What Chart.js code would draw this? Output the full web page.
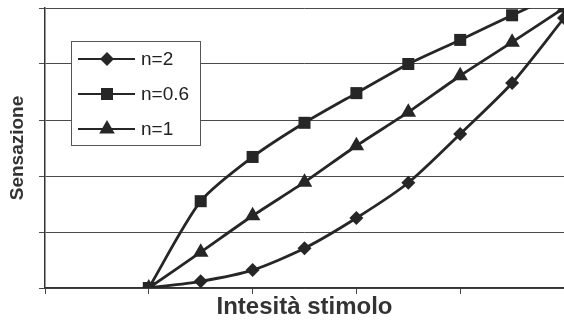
<!DOCTYPE html>
<html>
<head>
<meta charset="utf-8">
<script src="https://cdn.jsdelivr.net/npm/chart.js@4.4.1/dist/chart.umd.min.js"></script>
<style>
  html, body { margin: 0; padding: 0; background: #fff; }
  #wrap { width: 564px; height: 324px; }
</style>
</head>
<body>
<div id="wrap"><canvas id="chartStevens"></canvas></div>
<script>
// stimulus intensity (x) and sensation (y)
var stimolo   = [1, 1.5, 2, 2.5, 3, 3.5, 4, 4.5, 5];
var n2        = [0, 0.12, 0.32, 0.71, 1.25, 1.88, 2.75, 3.66, 4.82];
var n06       = [0, 1.55, 2.34, 2.95, 3.48, 4.0, 4.43, 4.87, 5.3];
var n1        = [0, 0.64, 1.29, 1.89, 2.54, 3.14, 3.79, 4.39, 5.0];
var serieNomi = ["n=2", "n=0.6", "n=1"];
var xTicks    = [0, 1, 2, 3, 4, 5];
var yTicks    = [0, 1, 2, 3, 4, 5];

var ink = "#262626";
var FONT = "'Liberation Sans', Arial, sans-serif";

function punti(vals) {
	return stimolo.map(function(x, i) { return { x: x, y: vals[i] }; });
}

function serie(label, vals, style, radius) {
	return {
		label: label,
		data: punti(vals),
		borderColor: ink,
		backgroundColor: ink,
		borderWidth: 2.8,
		tension: 0.25,
		pointStyle: style,
		pointRadius: radius,
		pointHoverRadius: radius,
		pointBorderWidth: 0
	};
}

// legend box inside the plot, drawn from the datasets' own styles
var boxLegend = {
	id: "boxLegend",
	afterDraw: function(chart) {
		var ctx = chart.ctx, area = chart.chartArea;
		var x0 = area.left + 26, y0 = area.top + 33;
		ctx.save();
		ctx.strokeStyle = "#555";
		ctx.lineWidth = 1;
		ctx.fillStyle = "#fff";
		ctx.fillRect(x0, y0, 129, 104);
		ctx.strokeRect(x0 + 0.5, y0 + 0.5, 129, 104);
		chart.data.datasets.forEach(function(ds, i) {
			var y = y0 + 18 + i * 35;
			ctx.strokeStyle = ds.borderColor;
			ctx.lineWidth = 2;
			ctx.beginPath();
			ctx.moveTo(x0 + 7, y);
			ctx.lineTo(x0 + 64, y);
			ctx.stroke();
			ctx.fillStyle = ds.backgroundColor;
			Chart.helpers.drawPoint(ctx, {
				pointStyle: ds.pointStyle, radius: ds.pointRadius, borderWidth: 0, rotation: 0
			}, x0 + 36, y);
			ctx.fillStyle = "#222";
			ctx.font = "19px " + FONT;
			ctx.textBaseline = "middle";
			ctx.fillText(ds.label, x0 + 70, y + 1);
		});
		ctx.restore();
	}
};

function Init() {
	new Chart(document.getElementById("chartStevens"), {
		type: "line",
		data: {
			datasets: [
				serie(serieNomi[0], n2, "rectRot", 7),
				serie(serieNomi[1], n06, "rect", 8.5),
				serie(serieNomi[2], n1, "triangle", 9)
			]
		},
		plugins: [boxLegend],
		options: {
			responsive: true,
			maintainAspectRatio: false,
			animation: false,
			layout: { autoPadding: false, padding: { left: 3, top: 8, right: 0, bottom: 0 } },
			plugins: { legend: { display: false }, tooltip: { enabled: false } },
			scales: {
				x: {
					type: "linear",
					min: xTicks[0],
					max: xTicks[xTicks.length - 1],
					afterBuildTicks: function(s) { s.ticks = xTicks.map(function(v) { return { value: v }; }); },
					ticks: { display: false },
					grid: { drawOnChartArea: false, drawTicks: true, tickLength: 6, color: "#444" },
					border: { display: true, color: "#333", width: 1.5 },
					title: {
						display: true,
						text: "Intesità stimolo",
						color: "#333",
						font: { family: FONT, size: 24, weight: "bold", lineHeight: 1 },
						padding: { top: 1.5, bottom: 4.5 }
					}
				},
				y: {
					min: yTicks[0],
					max: yTicks[yTicks.length - 1],
					afterBuildTicks: function(s) { s.ticks = yTicks.map(function(v) { return { value: v }; }); },
					ticks: { display: false },
					grid: { drawTicks: true, tickLength: 6, color: "#4a4a4a", lineWidth: 1 },
					border: { display: true, color: "#333", width: 1.5 },
					title: {
						display: true,
						text: "Sensazione",
						color: "#333",
						font: { family: FONT, size: 19, weight: "bold", lineHeight: 1 },
						padding: { top: 5.5, bottom: 11.5 }
					}
				}
			}
		}
	});
}

Init();
</script>
</body>
</html>
